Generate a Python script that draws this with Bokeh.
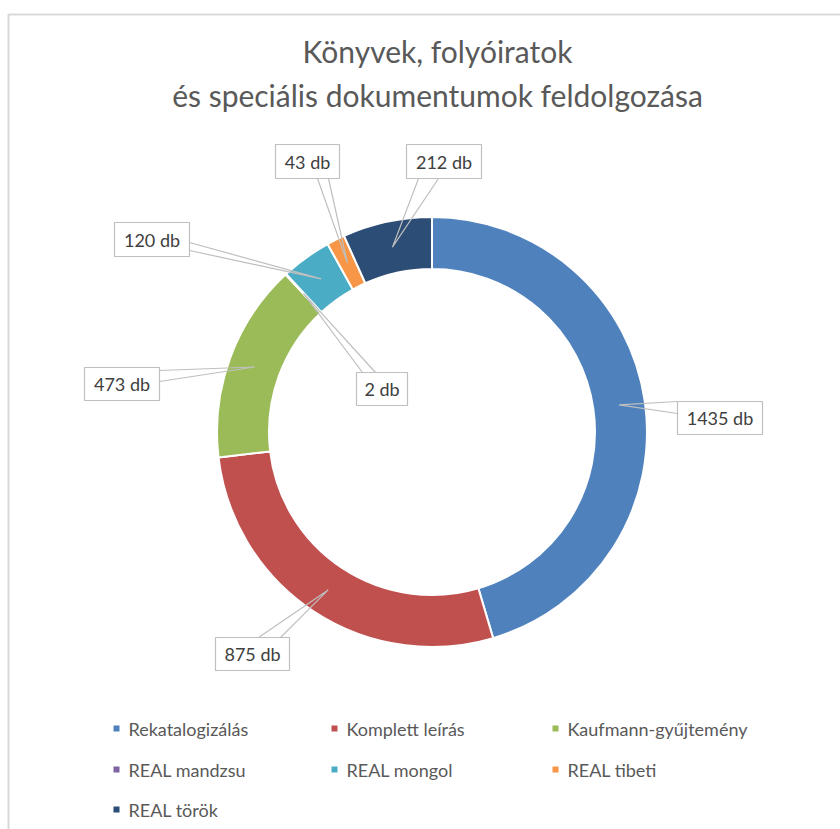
import math
from bokeh.plotting import figure
from bokeh.models import Range1d, ColumnDataSource
from bokeh.core.properties import value
from bokeh.embed import file_html
from bokeh.resources import INLINE

# ---- data ----
categories = ["Rekatalogizálás", "Komplett leírás", "Kaufmann-gyűjtemény",
              "REAL mandzsu", "REAL mongol", "REAL tibeti", "REAL török"]
counts = [1435, 875, 473, 2, 120, 43, 212]
colors = ["#4F81BD", "#C0504D", "#9BBB59", "#8064A2", "#4BACC6", "#F79646", "#2C4D75"]
title_lines = ["Könyvek, folyóiratok", "és speciális dokumentumok feldolgozása"]
unit = "db"

W, H = 840, 829
def Y(yp):
    return H - yp

p = figure(width=W, height=H, output_backend="svg", toolbar_location=None,
           x_range=Range1d(0, W), y_range=Range1d(0, H), min_border=0)
p.axis.visible = False
p.grid.visible = False
p.outline_line_color = None
p.background_fill_color = "white"
p.border_fill_color = "white"

# chart frame
p.quad(left=[8], right=[W + 20], top=[Y(14)], bottom=[-20],
       fill_color=None, line_color="#d9d9d9", line_width=2)

# ---- donut ----
cx, cy = 431.5, Y(431.5)
r_out, r_in = 215, 163
total = sum(counts)
starts, ends, mids = [], [], []
cum = 0
for v in counts:
    a0 = math.pi / 2 - 2 * math.pi * cum / total
    cum += v
    a1 = math.pi / 2 - 2 * math.pi * cum / total
    starts.append(a0)
    ends.append(a1)
    mids.append((a0 + a1) / 2)

src = ColumnDataSource(dict(start=starts, end=ends, color=colors))
p.annular_wedge(x=cx, y=cy, inner_radius=r_in, outer_radius=r_out,
                start_angle="start", end_angle="end", direction="clock",
                fill_color="color", line_color="white", line_width=2, source=src)

# ---- data labels (box in pixels: left, top, right, bottom; callout base points) ----
boxes = [
    ((677, 401, 762, 434), [(677, 401), (677, 413)]),
    ((215, 637, 289, 670), [(258, 637), (280, 637)]),
    ((84, 367, 159, 400), [(159, 370), (159, 381)]),
    ((356, 372, 407, 405), [(362, 372), (375, 372)]),
    ((114, 222, 189, 256), [(189, 242), (189, 250)]),
    ((275, 144, 339, 178), [(317, 178), (328, 178)]),
    ((406, 144, 481, 178), [(418, 178), (438, 178)]),
]
r_mid = (r_out + r_in) / 2
xs, ys = [], []
for i, (box, base) in enumerate(boxes):
    ax = cx + r_mid * math.cos(mids[i])
    ay = cy + r_mid * math.sin(mids[i])
    xs.append([base[0][0], ax, base[1][0]])
    ys.append([Y(base[0][1]), ay, Y(base[1][1])])
p.multi_line(xs=xs, ys=ys, line_color="#bfbfbf", line_width=1.2)

bl = [b[0][0] for b in boxes]
bt = [Y(b[0][1]) for b in boxes]
br = [b[0][2] for b in boxes]
bb = [Y(b[0][3]) for b in boxes]
p.quad(left=bl, right=br, top=bt, bottom=bb, fill_color="white",
       line_color="#bfbfbf", line_width=1.2)
p.text(x=[(l + r) / 2 for l, r in zip(bl, br)],
       y=[(t + b) / 2 for t, b in zip(bt, bb)],
       text=[f"{v} {unit}" for v in counts],
       text_align="center", text_baseline="middle",
       text_font=value("Lato"), text_font_size="18px", text_color="#404040")

# ---- title ----
p.text(x=[437, 437], y=[Y(50), Y(94)], text=title_lines,
       text_align="center", text_baseline="middle",
       text_font=value("Lato"), text_font_size="30px", text_color="#595959")

# ---- legend ----
col_x = [116, 334, 555]
row_y = [728, 769, 809]
lx, ly = [], []
for i in range(len(categories)):
    lx.append(col_x[i % 3])
    ly.append(Y(row_y[i // 3]))
p.rect(x=lx, y=ly, width=6, height=6, fill_color=colors, line_color=None)
p.text(x=[x + 12 for x in lx], y=ly, text=categories,
       text_align="left", text_baseline="middle",
       text_font=value("Lato"), text_font_size="18px", text_color="#595959")

open("out.html", "w").write(file_html(p, INLINE))
